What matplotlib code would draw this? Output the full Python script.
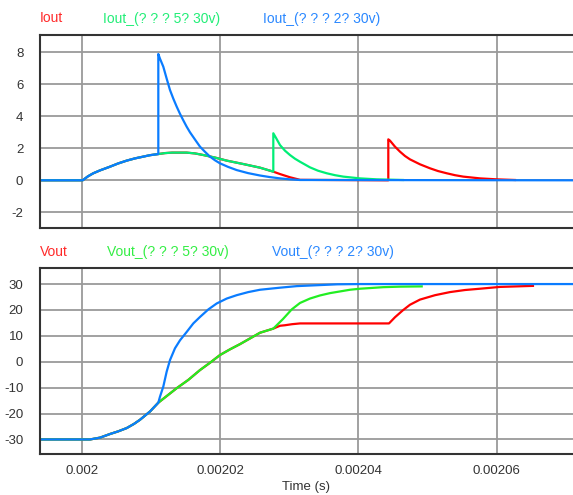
import numpy as np
import matplotlib
matplotlib.use("Agg")
from matplotlib import pyplot as plt

plt.rcParams["font.family"] = ["Liberation Sans", "DejaVu Sans"]
plt.rcParams["axes.unicode_minus"] = False

T0 = 0.002  # all time arrays are microseconds after 2 ms

# --- Iout (A) ---
t_iout_red = [-6.03, 0.0, 0.14, 0.91, 1.68, 2.65, 4.09, 5.25, 6.51, 7.71, 8.91, 9.88, 11.08,
              12.05, 13.06, 15.18, 16.38, 17.58, 19.28, 20.97, 23.33, 25.78, 27.71,
              28.68, 30.12, 31.57, 44.34, 44.34, 44.58, 45.31, 46.03, 46.75, 47.47,
              48.92, 50.37, 51.52, 52.78, 53.98, 55.18, 57.60, 60.01, 62.66]
iout_red = [0.0, 0.0, 0.0, 0.25, 0.44, 0.62, 0.85, 1.05, 1.23, 1.37, 1.48, 1.57, 1.64,
            1.70, 1.73, 1.73, 1.68, 1.58, 1.42, 1.23, 1.02, 0.79, 0.54,
            0.39, 0.19, 0.03, 0.0, 2.56, 2.48, 2.10, 1.79, 1.52, 1.31,
            1.00, 0.75, 0.58, 0.44, 0.32, 0.23, 0.12, 0.06, 0.02]

t_iout_green = [-6.03, 0.0, 0.14, 0.91, 1.68, 2.65, 4.09, 5.25, 6.51, 7.71, 8.91, 9.88, 11.08,
                12.05, 13.06, 15.18, 16.38, 17.58, 19.28, 20.97, 23.33, 25.78, 27.71,
                27.71, 28.10, 28.68, 29.40, 30.12, 30.84, 31.57, 33.01, 34.17, 35.43,
                36.63, 37.83, 40.25, 42.66, 46.46]
iout_green = [0.0, 0.0, 0.0, 0.25, 0.44, 0.62, 0.85, 1.05, 1.23, 1.37, 1.48, 1.57, 1.64,
              1.70, 1.73, 1.73, 1.68, 1.58, 1.42, 1.23, 1.02, 0.79, 0.54,
              2.94, 2.65, 2.20, 1.85, 1.58, 1.35, 1.16, 0.81, 0.60, 0.44,
              0.32, 0.23, 0.12, 0.06, 0.02]

t_iout_blue = [-6.03, 0.0, 0.14, 0.91, 1.68, 2.65, 4.09, 5.25, 6.51, 7.71, 8.91, 9.88, 11.08,
               11.08, 11.32, 11.80, 12.29, 12.77, 13.25, 13.74, 14.22, 14.69, 15.18,
               15.66, 16.38, 17.11, 17.83, 18.55, 19.28, 20.00, 21.16, 22.41, 24.05,
               25.78, 27.23, 28.68, 30.12, 31.57, 71.05]
iout_blue = [0.0, 0.0, 0.0, 0.25, 0.44, 0.62, 0.85, 1.05, 1.23, 1.37, 1.48, 1.57, 1.64,
             7.89, 7.60, 7.10, 6.35, 5.64, 5.10, 4.60, 4.15, 3.75, 3.35,
             3.00, 2.55, 2.10, 1.78, 1.48, 1.25, 1.06, 0.84, 0.64, 0.45,
             0.30, 0.20, 0.12, 0.06, 0.02, 0.0]

# --- Vout (V) ---
t_vout_red = [-6.03, 1.20, 2.65, 4.09, 5.25, 6.51, 7.56, 8.43, 9.88, 11.08,
              13.74, 15.42, 17.11, 18.55, 20.00, 21.45, 22.89, 24.34, 25.78, 27.71,
              28.68, 29.40, 30.41, 31.57, 44.44, 45.31, 46.46, 47.47, 48.92, 51.09,
              53.26, 55.43, 57.60, 60.49, 65.26]
vout_red = [-30.0, -30.0, -29.3, -27.9, -26.9, -25.6, -24.0, -22.4, -19.2, -15.8,
            -10.2, -7.0, -3.2, -0.4, 2.6, 4.8, 6.8, 9.0, 11.2, 12.8,
            13.9, 14.1, 14.5, 14.8, 14.8, 17.2, 19.9, 22.0, 24.0, 25.7,
            26.9, 27.7, 28.2, 28.9, 29.3]

t_vout_green = [-6.03, 1.20, 2.65, 4.09, 5.25, 6.51, 7.56, 8.43, 9.88, 11.08,
                13.74, 15.42, 17.11, 18.55, 20.00, 21.45, 22.89, 24.34, 25.78, 27.71,
                29.11, 30.37, 31.57, 33.01, 34.46, 35.91, 38.80, 40.25, 43.61, 46.03,
                49.17]
vout_green = [-30.0, -30.0, -29.3, -27.9, -26.9, -25.6, -24.0, -22.4, -19.2, -15.8,
              -10.2, -7.0, -3.2, -0.4, 2.6, 4.8, 6.8, 9.0, 11.2, 12.8,
              16.5, 20.2, 22.7, 24.4, 25.6, 26.5, 27.8, 28.2, 28.8, 29.0,
              29.1]

t_vout_blue = [-6.03, 1.20, 2.65, 4.09, 5.25, 6.51, 7.56, 8.43, 9.88, 11.08,
               11.32, 11.80, 12.29, 12.77, 13.49, 14.22, 15.18, 16.14, 17.11, 18.31,
               19.52, 20.97, 22.41, 24.09, 25.78, 28.68, 31.09, 36.96, 40.25, 71.05]
vout_blue = [-30.0, -30.0, -29.3, -27.9, -26.9, -25.6, -24.0, -22.4, -19.2, -15.8,
             -13.5, -9.6, -3.8, 0.65, 5.2, 8.3, 11.5, 14.8, 17.3, 20.2,
             22.5, 24.4, 25.7, 26.9, 27.8, 28.6, 29.2, 29.9, 30.0, 30.0]

xticks = [0.002, 0.00202, 0.00204, 0.00206]
xtick_labels = ["0.002", "0.00202", "0.00204", "0.00206"]
iout_ticks = [-2, 0, 2, 4, 6, 8]
vout_ticks = [-30, -20, -10, 0, 10, 20, 30]

RED = "#FF0000"
GREEN_I = "#00EE76"
GREEN_V = "#22EE22"
BLUE = "#0A7CFF"


def sec(t_us):
    return T0 + np.asarray(t_us) * 1e-6


fig = plt.figure(figsize=(5.73, 4.95), dpi=100)
ax1 = fig.add_axes([40 / 573, 1 - 228 / 495, 533 / 573, 193.5 / 495])
ax2 = fig.add_axes([40 / 573, 1 - 453.7 / 495, 533 / 573, 185.7 / 495])

ax1.plot(sec(t_iout_red), iout_red, color=RED, lw=1.6)
ax1.plot(sec(t_iout_green), iout_green, color=GREEN_I, lw=1.6)
ax1.plot(sec(t_iout_blue), iout_blue, color=BLUE, lw=1.6)

ax2.plot(sec(t_vout_red), vout_red, color=RED, lw=1.6)
ax2.plot(sec(t_vout_green), vout_green, color=GREEN_V, lw=1.6)
ax2.plot(sec(t_vout_blue), vout_blue, color=BLUE, lw=1.6)

ax1.set_ylim(-2.98, 9.11)
ax2.set_ylim(-35.5, 36.2)
ax1.set_yticks(iout_ticks)
ax2.set_yticks(vout_ticks)

for ax in (ax1, ax2):
    ax.set_xlim(sec(-6.03), sec(71.05))
    ax.set_xticks(xticks)
    ax.grid(True, color="#9A9A9A", lw=1.3)
    ax.set_axisbelow(True)
    ax.tick_params(length=0, labelsize=9.5, labelcolor="#333333")
    ax.tick_params(axis="y", pad=12)
    ax.tick_params(axis="x", pad=8)
    ax.spines["right"].set_visible(False)
    for s in ("left", "top", "bottom"):
        ax.spines[s].set_color("#333333")
        ax.spines[s].set_linewidth(1.5)

ax1.set_xticklabels([])
ax2.set_xticklabels(xtick_labels)
ax2.set_xlabel("Time (s)", fontsize=9.5, color="#333333", labelpad=3)

# legends as coloured texts above each panel
fig.text(40 / 573, 1 - 18.5 / 495, "Iout", color="#FF2A2A", fontsize=10, va="center")
fig.text(103 / 573, 1 - 18.5 / 495, "Iout_(? ? ? 5? 30v)", color="#22EE77", fontsize=10, va="center")
fig.text(263 / 573, 1 - 18.5 / 495, "Iout_(? ? ? 2? 30v)", color="#2A88FF", fontsize=10, va="center")
fig.text(40 / 573, 1 - 252 / 495, "Vout", color="#FF2A2A", fontsize=10, va="center")
fig.text(107 / 573, 1 - 252 / 495, "Vout_(? ? ? 5? 30v)", color="#33EE44", fontsize=10, va="center")
fig.text(272 / 573, 1 - 252 / 495, "Vout_(? ? ? 2? 30v)", color="#2A88FF", fontsize=10, va="center")

fig.savefig("out.png", dpi=100)
